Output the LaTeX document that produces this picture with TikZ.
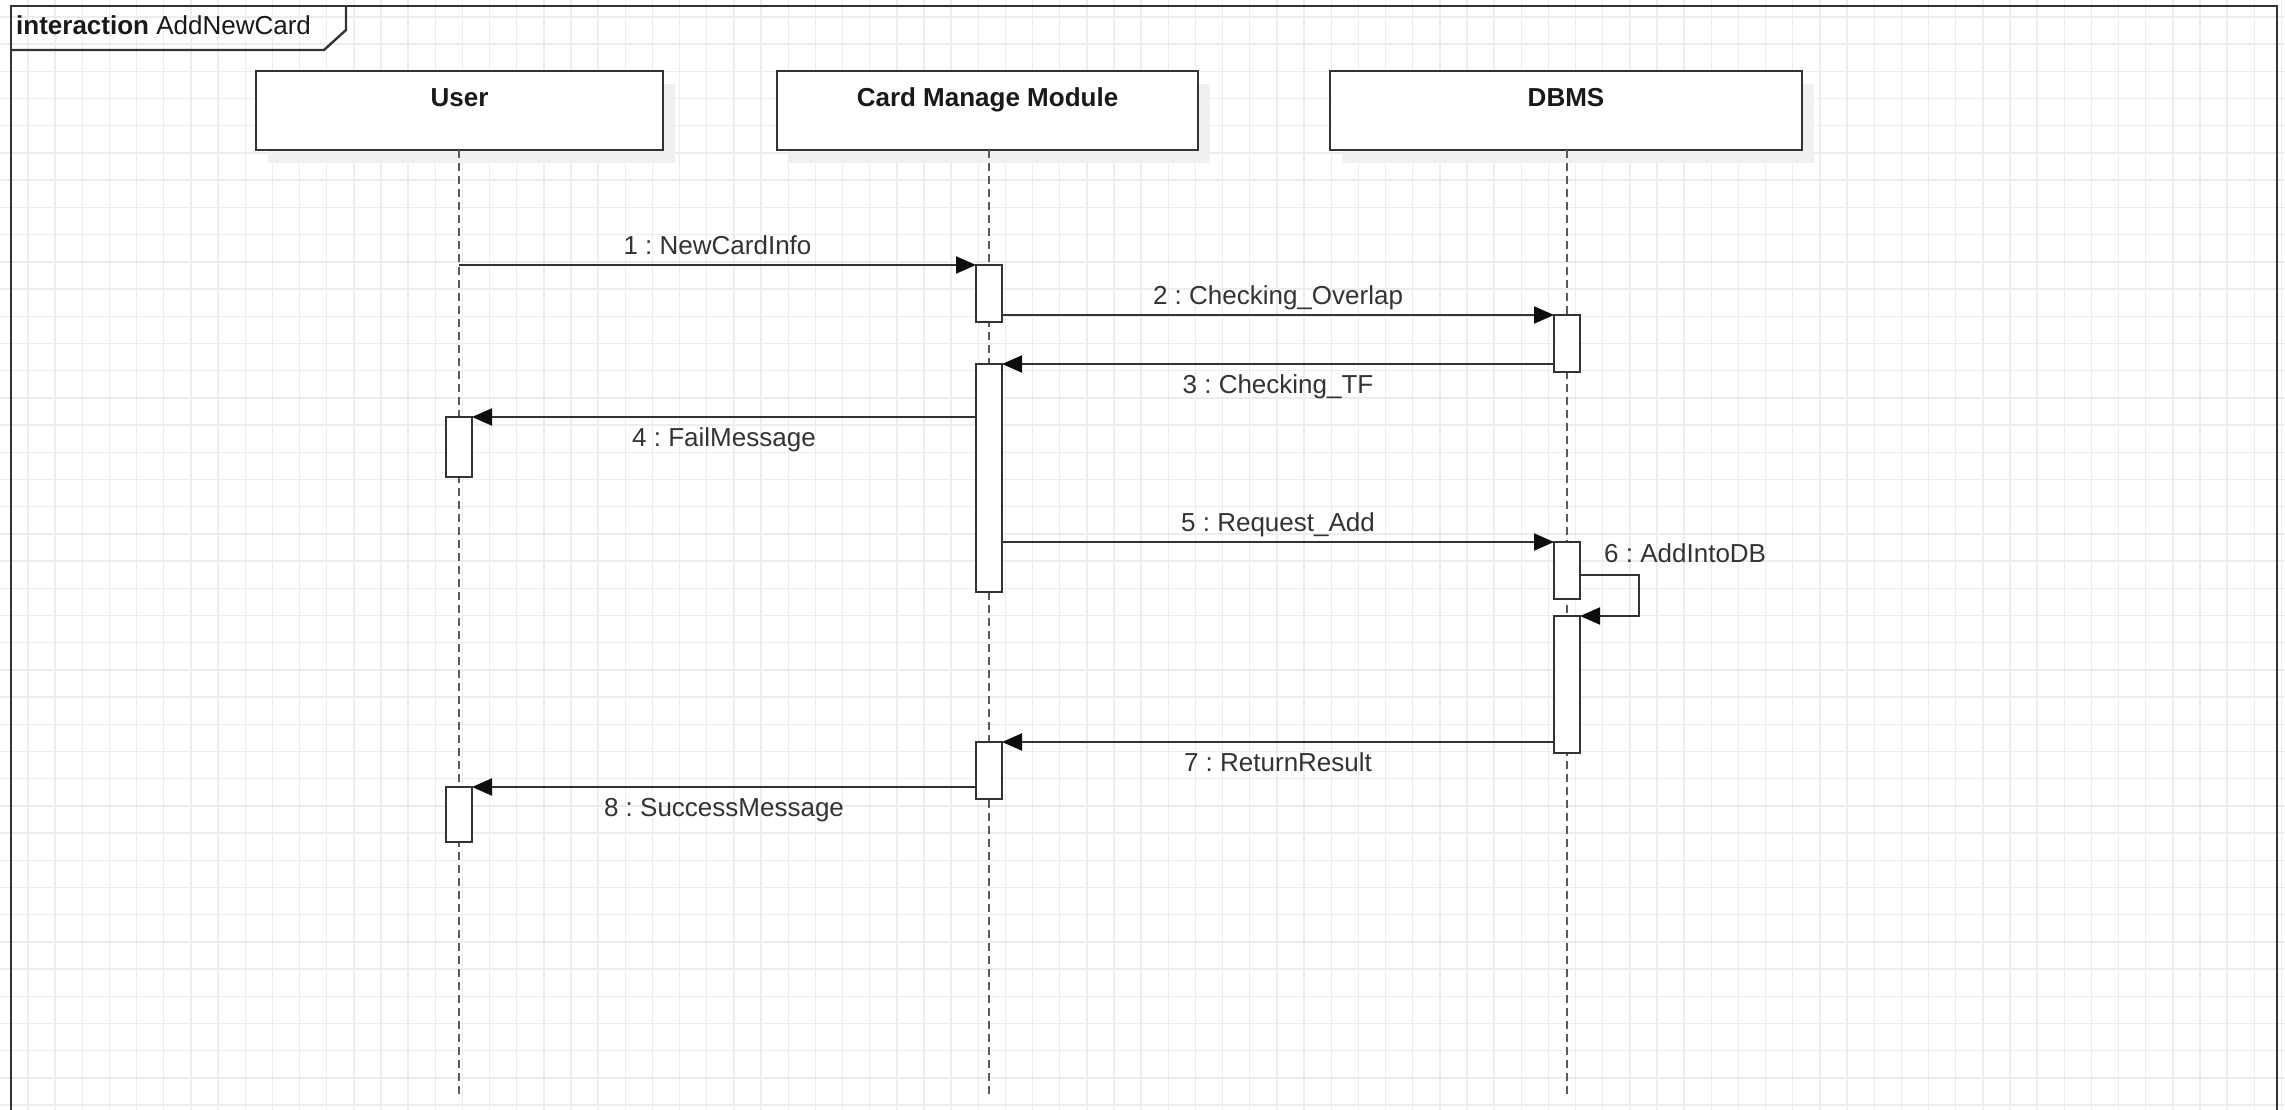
\documentclass[tikz,border=0pt]{standalone}
\usepackage{fontspec}
\setmainfont{Liberation Sans}
\usetikzlibrary{arrows.meta,calc}
\definecolor{ink}{HTML}{333333}
\definecolor{gridc}{HTML}{EDEDED}
\definecolor{lifec}{HTML}{5A5A5A}
\definecolor{shadowc}{HTML}{F0F0F0}
\frenchspacing

\begin{document}
\begin{tikzpicture}[x=1pt,y=-1pt,
  font=\fontsize{26}{30}\selectfont,
  gridline/.style={draw=gridc, line width=1.4pt},
  head/.style={draw=ink, fill=white, line width=2.4pt, rectangle, inner sep=0pt, outer sep=0pt, minimum height=79pt},
  headshadow/.style={fill=shadowc, draw=none},
  headtext/.style={anchor=base, inner sep=0pt, font=\fontsize{26}{30}\selectfont\bfseries, text=black!90},
  lifeline/.style={draw=lifec, line width=1.8pt, dash pattern=on 8pt off 5pt},
  act/.style={draw=ink, fill=white, line width=2.2pt, rectangle, inner sep=0pt, outer sep=0pt, minimum width=26pt},
  msg/.style={draw=ink, line width=2pt, -{Triangle[length=20pt,width=17pt,color=black!95]}},
  lbl/.style={text=ink, inner sep=0pt, text height=0.72em, text depth=0.22em},
  frameline/.style={draw=ink, line width=2.4pt},
]
% canvas and background grid
\useasboundingbox (0,0) rectangle (2285,1110);
\fill[white] (0,0) rectangle (2285,1110);
\foreach \i in {0,...,83} \draw[gridline] (28+\i*27.15,0) -- (28+\i*27.15,1110);
\foreach \j in {0,...,40} \draw[gridline] (0,17+\j*27.2) -- (2285,17+\j*27.2);

% interaction frame with its name tab
\draw[frameline] (11,1110) -- (11,6) -- (2277,6) -- (2277,1110);
\draw[frameline] (346,6) -- (346,30) -- (324,50) -- (11,50);
\node[anchor=base west, inner sep=0pt, text=black!90] (title) at (16,35) {\textbf{interaction} AddNewCard};

% participant heads with soft shadows
\fill[headshadow] (268,84) rectangle (675,163);
\fill[headshadow] (789,84) rectangle (1210,163);
\fill[headshadow] (1342,84) rectangle (1814,163);
\node[head, minimum width=407pt] (user) at (459.5,110.5) {};
\node[head, minimum width=421pt] (cmm)  at (987.5,110.5) {};
\node[head, minimum width=472pt] (dbms) at (1566,110.5) {};
\node[headtext] (userT) at (459.5,107) {User};
\node[headtext] (cmmT)  at (987.5,107) {Card Manage Module};
\node[headtext] (dbmsT) at (1566,107) {DBMS};

% lifelines
\coordinate (userEnd) at (459,1097);
\coordinate (cmmEnd)  at (989,1097);
\coordinate (dbmsEnd) at (1567,1097);
\draw[lifeline] (user.south -| userEnd) -- (userEnd);
\draw[lifeline] (cmm.south -| cmmEnd) -- (cmmEnd);
\draw[lifeline] (dbms.south -| dbmsEnd) -- (dbmsEnd);

% activation bars
\node[act, minimum height=60pt]  (U1) at (459,447) {};
\node[act, minimum height=55pt]  (U2) at (459,814.5) {};
\node[act, minimum height=57pt]  (C1) at (989,293.5) {};
\node[act, minimum height=228pt] (C2) at (989,478) {};
\node[act, minimum height=57pt]  (C3) at (989,770.5) {};
\node[act, minimum height=57pt]  (D1) at (1567,343.5) {};
\node[act, minimum height=57pt]  (D2) at (1567,570.5) {};
\node[act, minimum height=137pt] (D3) at (1567,684.5) {};

% messages
\coordinate (m1s) at (459,265);
\draw[msg] (m1s) -- (C1.north west)
  node[lbl, midway, yshift=13.5pt] (L1) {1 : NewCardInfo};
\draw[msg] (C1.east |- 0,315) -- (D1.north west)
  node[lbl, midway, yshift=13.5pt] (L2) {2 : Checking\_Overlap};
\draw[msg] (D1.west |- 0,364) -- (C2.north east)
  node[lbl, midway, yshift=-27pt] (L3) {3 : Checking\_TF};
\draw[msg] (C2.west |- 0,417) -- (U1.north east)
  node[lbl, midway, yshift=-27pt] (L4) {4 : FailMessage};
\draw[msg] (C2.east |- 0,542) -- (D2.north west)
  node[lbl, midway, yshift=13.5pt] (L5) {5 : Request\_Add};
\coordinate (self6) at (1639,600);
\draw[msg] (D2.east |- 0,575) -| (self6) |- (D3.north east);
\node[lbl, anchor=west] (L6) at (1604,560) {6 : AddIntoDB};
\draw[msg] (D3.west |- 0,742) -- (C3.north east)
  node[lbl, midway, yshift=-27pt] (L7) {7 : ReturnResult};
\draw[msg] (C3.west |- 0,787) -- (U2.north east)
  node[lbl, midway, yshift=-27pt] (L8) {8 : SuccessMessage};
\end{tikzpicture}
\end{document}
